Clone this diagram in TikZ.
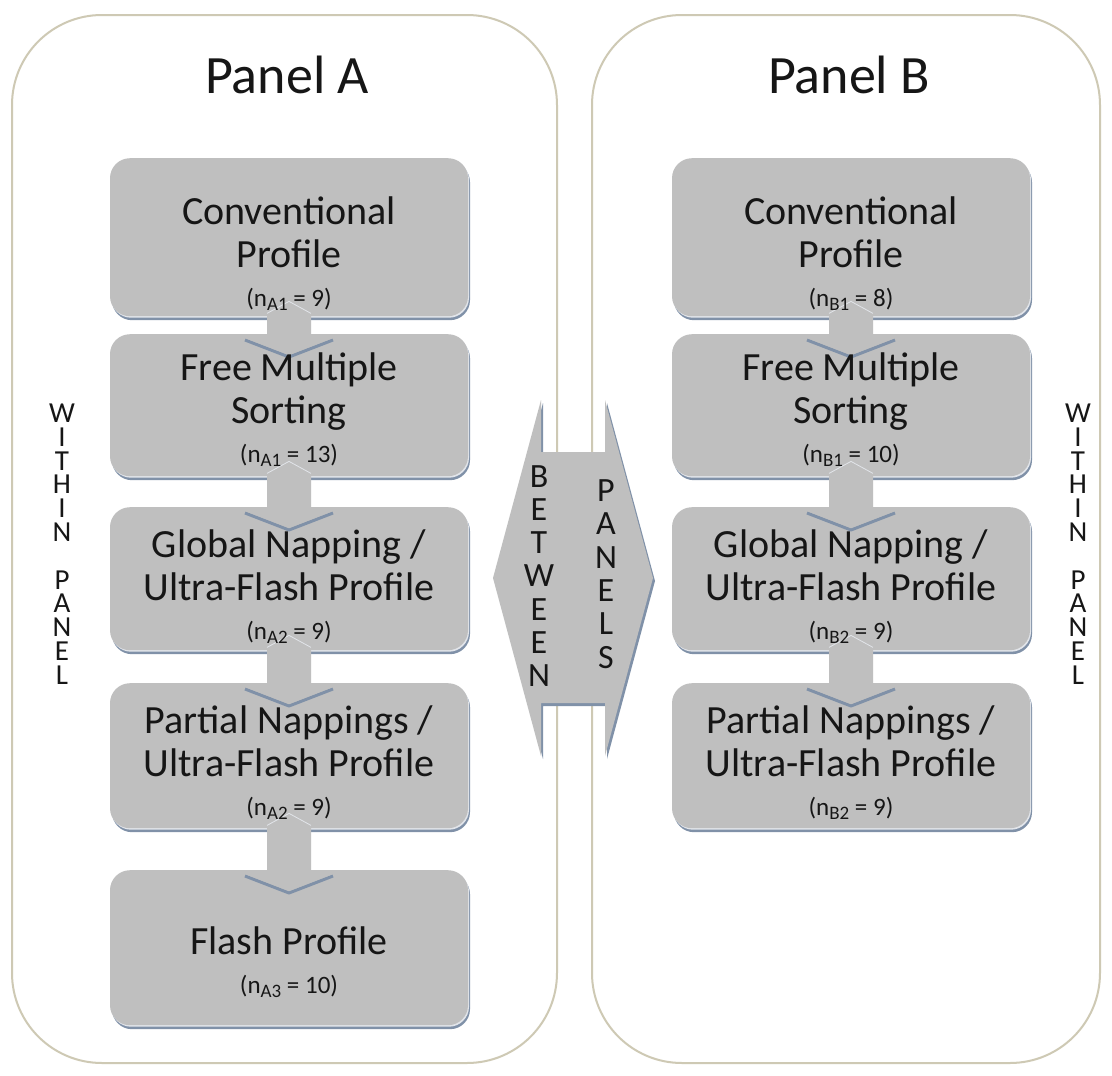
\documentclass[tikz,border=0pt]{standalone}
\usepackage{fontspec}
\setmainfont{Carlito}
\usetikzlibrary{calc,shadows}

\definecolor{panelline}{RGB}{206,201,180}
\definecolor{boxfill}{RGB}{191,191,191}
\definecolor{boxshade}{RGB}{128,145,168}
\definecolor{boxlight}{RGB}{226,229,234}
\definecolor{inkc}{RGB}{22,22,22}

% subscript used in the sample-size lines
\newcommand\nsub[1]{\raisebox{-0.32ex}{\fontsize{19}{19}\selectfont #1}}
\newcommand\nline[2]{{\fontsize{25}{25}\selectfont (n\nsub{#1} = #2)}}

% block arrow from the bottom of one stage box into the top of the next
\newcommand\flowarrow[2]{%
  \draw[boxshade, line width=3pt, line join=round]
    ($(#2.north)+(-44,6)$) -- ($(#2.north)+(0,23)$) -- ($(#2.north)+(44,6)$);
  \fill[boxfill]
    ($(#1.south)+(-22,-3)$) -- ($(#1.south)+(0,-15)$) -- ($(#1.south)+(22,-3)$)
    -- ($(#2.north)+(22,4)$) -- ($(#2.north)+(44,4)$) -- ($(#2.north)+(0,21)$)
    -- ($(#2.north)+(-44,4)$) -- ($(#2.north)+(-22,4)$) -- cycle;
  \draw[boxlight, line width=0.8pt]
    ($(#1.south)+(-22,-3)$) -- ($(#1.south)+(0,-15)$) -- ($(#1.south)+(22,-3)$);
}

\tikzset{
  panel/.style={draw=panelline, line width=2pt, rounded corners=90pt, fill=white, inner sep=0pt},
  stage/.style={rectangle, rounded corners=20pt, fill=boxfill, minimum width=358pt, inner sep=0pt,
    general shadow={fill=boxshade, shadow xshift=2pt, shadow yshift=-4pt},
    general shadow={fill=boxlight, shadow xshift=1pt, shadow yshift=-1.5pt}},
  stagetext/.style={align=center, text=inkc, inner sep=0pt, font=\fontsize{40}{43}\selectfont},
  paneltitle/.style={text=inkc, inner sep=0pt, font=\fontsize{54}{60}\selectfont},
  sideletters/.style={align=center, text=inkc, inner sep=0pt, font=\fontsize{29}{23.8}\selectfont},
  midletters/.style={align=center, text=inkc, inner sep=0pt, font=\fontsize{34}{33.3}\selectfont},
}

\begin{document}
\begin{tikzpicture}[x=1pt,y=-1pt]
\useasboundingbox (0,0) rectangle (1112,1076);
\fill[white] (0,0) rectangle (1112,1076);

% the two panels
\node[panel, minimum width=545pt, minimum height=1048pt] (pA) at (284.5,539) {};
\node[panel, minimum width=508pt, minimum height=1048pt] (pB) at (846,539) {};

\node[paneltitle] (tA) at (287,75) {Panel A};
\node[paneltitle] (tB) at (849,75) {Panel B};

% stage boxes, panel A
\node[stage, minimum height=158pt, anchor=north] (a1) at (289,158) {};
\node[stage, minimum height=142pt, anchor=north] (a2) at (289,334) {};
\node[stage, minimum height=143pt, anchor=north] (a3) at (289,507) {};
\node[stage, minimum height=145pt, anchor=north] (a4) at (289,683) {};
\node[stage, minimum height=155pt, anchor=north] (a5) at (289,870) {};

% stage boxes, panel B
\node[stage, minimum height=158pt, anchor=north] (b1) at (851,158) {};
\node[stage, minimum height=142pt, anchor=north] (b2) at (851,334) {};
\node[stage, minimum height=143pt, anchor=north] (b3) at (851,507) {};
\node[stage, minimum height=145pt, anchor=north] (b4) at (851,683) {};

% arrows inside each panel
\flowarrow{a1}{a2}
\flowarrow{a2}{a3}
\flowarrow{a3}{a4}
\flowarrow{a4}{a5}
\flowarrow{b1}{b2}
\flowarrow{b2}{b3}
\flowarrow{b3}{b4}

% labels of the stages
\node[stagetext] (a1t) at (289,254) {Conventional\\Profile\\[-4pt]\nline{A1}{9}};
\node[stagetext] (a2t) at (289,410) {Free Multiple\\Sorting\\[-4pt]\nline{A1}{13}};
\node[stagetext] (a3t) at (289,587) {Global Napping /\\Ultra-Flash Profile\\[-4pt]\nline{A2}{9}};
\node[stagetext] (a4t) at (289,763) {Partial Nappings /\\Ultra-Flash Profile\\[-4pt]\nline{A2}{9}};
\node[stagetext] (a5t) at (289,962) {Flash Profile\\[-4pt]\nline{A3}{10}};

\node[stagetext] (b1t) at (851,254) {Conventional\\Profile\\[-4pt]\nline{B1}{8}};
\node[stagetext] (b2t) at (851,410) {Free Multiple\\Sorting\\[-4pt]\nline{B1}{10}};
\node[stagetext] (b3t) at (851,587) {Global Napping /\\Ultra-Flash Profile\\[-4pt]\nline{B2}{9}};
\node[stagetext] (b4t) at (851,763) {Partial Nappings /\\Ultra-Flash Profile\\[-4pt]\nline{B2}{9}};

% double block arrow between the panels
\fill[boxshade]
  ([shift={(2,3)}]493,578) -- ([shift={(2,3)}]541,400) -- ([shift={(2,3)}]541,452)
  -- ([shift={(2,3)}]605,452) -- ([shift={(2,3)}]605,400) -- ([shift={(2,3)}]653,578)
  -- ([shift={(2,3)}]605,756) -- ([shift={(2,3)}]605,703) -- ([shift={(2,3)}]541,703)
  -- ([shift={(2,3)}]541,756) -- cycle;
\fill[boxfill]
  (493,578) -- (541,400) -- (541,452) -- (605,452) -- (605,400) -- (653,578)
  -- (605,756) -- (605,703) -- (541,703) -- (541,756) -- cycle;
\node[midletters] (btw) at (539,576) {B\\E\\T\\W\\E\\E\\N};
\node[midletters] (pnl) at (606,574) {P\\A\\N\\E\\L\\S};

% vertical captions at the outer sides
\node[sideletters] (wA) at (62,544) {W\\I\\T\\H\\I\\N\\~\\P\\A\\N\\E\\L};
\node[sideletters] (wB) at (1078,544) {W\\I\\T\\H\\I\\N\\~\\P\\A\\N\\E\\L};
\end{tikzpicture}
\end{document}
